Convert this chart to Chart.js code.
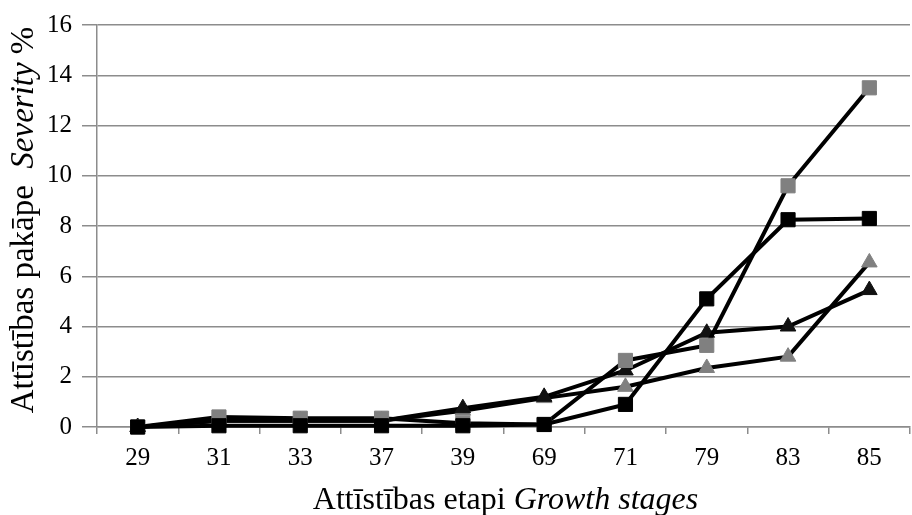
<!DOCTYPE html>
<html><head><meta charset="utf-8">
<script src="https://cdn.jsdelivr.net/npm/chart.js@4"></script>
<style>html,body{margin:0;padding:0;overflow:hidden;background:#fff}#wrap{width:921px;height:515px}</style>
</head><body><div id="wrap"><canvas id="c" width="921" height="515"></canvas></div>
<script>
const categories = ['29','31','33','37','39','69','71','79','83','85'];
const blackSquare = [0, 0.05, 0.05, 0.05, 0.05, 0.1, 0.9, 5.1, 8.25, 8.3];
const graySquare = [0, 0.4, 0.35, 0.35, 0.15, 0.1, 2.65, 3.25, 9.6, 13.5];
const blackTriangle = [0, 0.25, 0.25, 0.25, 0.75, 1.2, 2.25, 3.75, 4.0, 5.45];
const grayTriangle = [0, 0.25, 0.25, 0.25, 0.65, 1.15, 1.6, 2.35, 2.8, 6.55];
const yTicks = [0, 2, 4, 6, 8, 10, 12, 14, 16];
const xTitleParts = ['Attīstības etapi ', 'Growth stages'];
const yTitleParts = ['Attīstības pakāpe  ', 'Severity', ' %'];

const SERIF = '"Liberation Serif", "Times New Roman", serif';
const GRAY = '#808080';
const GRID = '#8c8c8c';

function ds(label, data, color, style, r) {
  return {
    label, data, borderColor: '#000', borderWidth: 4, tension: 0,
    pointStyle: style, pointRadius: r, pointHoverRadius: r,
    pointBackgroundColor: color, pointBorderColor: color, pointBorderWidth: 1,
    clip: false
  };
}

function drawRuns(ctx, runs, cx, cy, rot) {
  ctx.save();
  ctx.translate(cx, cy);
  ctx.rotate(rot);
  ctx.textBaseline = 'alphabetic';
  ctx.textAlign = 'left';
  ctx.fillStyle = '#000';
  let total = 0;
  runs.forEach(r => { ctx.font = r.font; total += ctx.measureText(r.text).width; });
  let x = -total / 2;
  runs.forEach(r => { ctx.font = r.font; ctx.fillText(r.text, x, 0); x += ctx.measureText(r.text).width; });
  ctx.restore();
}

const titlePlugin = {
  id: 'mixedTitles',
  afterDraw(chart) {
    const ctx = chart.ctx, a = chart.chartArea;
    const nx = '32px ' + SERIF, ix = 'italic 32px ' + SERIF;
    const ny = '33px ' + SERIF, iy = 'italic 33px ' + SERIF;
    drawRuns(ctx, [{text: xTitleParts[0], font: nx}, {text: xTitleParts[1], font: ix}],
      (a.left + a.right) / 2 + 2, 509, 0);
    drawRuns(ctx, [{text: yTitleParts[0], font: ny}, {text: yTitleParts[1], font: iy}, {text: yTitleParts[2], font: ny}],
      33, 220, -Math.PI / 2);
  }
};

new Chart(document.getElementById('c'), {
  type: 'line',
  data: {
    labels: categories,
    datasets: [
      ds('A', blackSquare, '#000', 'rect', 10),
      ds('B', graySquare, GRAY, 'rect', 10),
      ds('C', blackTriangle, '#111', 'triangle', 9),
      ds('D', grayTriangle, GRAY, 'triangle', 9)
    ]
  },
  options: {
    responsive: false,
    devicePixelRatio: 1,
    animation: false,
    layout: { padding: { top: 24, right: 0, left: 0, bottom: 0 } },
    plugins: { legend: { display: false }, tooltip: { enabled: false }, title: { display: false } },
    scales: {
      x: {
        type: 'category',
        offset: true,
        grid: { offset: true, drawOnChartArea: false, drawTicks: true, tickLength: 7, color: GRID, lineWidth: 1.5 },
        border: { display: true, color: GRID, width: 1.5 },
        ticks: { color: '#000', font: { family: SERIF, size: 25 }, padding: 9, maxRotation: 0 },
        afterFit(s) { s.height = 88; }
      },
      y: {
        min: 0, max: 16,
        afterBuildTicks(s) { s.ticks = yTicks.map(v => ({ value: v })); },
        grid: { color: GRID, lineWidth: 1.5, tickLength: 15 },
        border: { display: true, color: GRID, width: 1.5 },
        ticks: { color: '#000', font: { family: SERIF, size: 25 }, padding: 10 },
        afterFit(s) { s.width = 97; }
      }
    }
  },
  plugins: [titlePlugin]
});
</script>
</body></html>
